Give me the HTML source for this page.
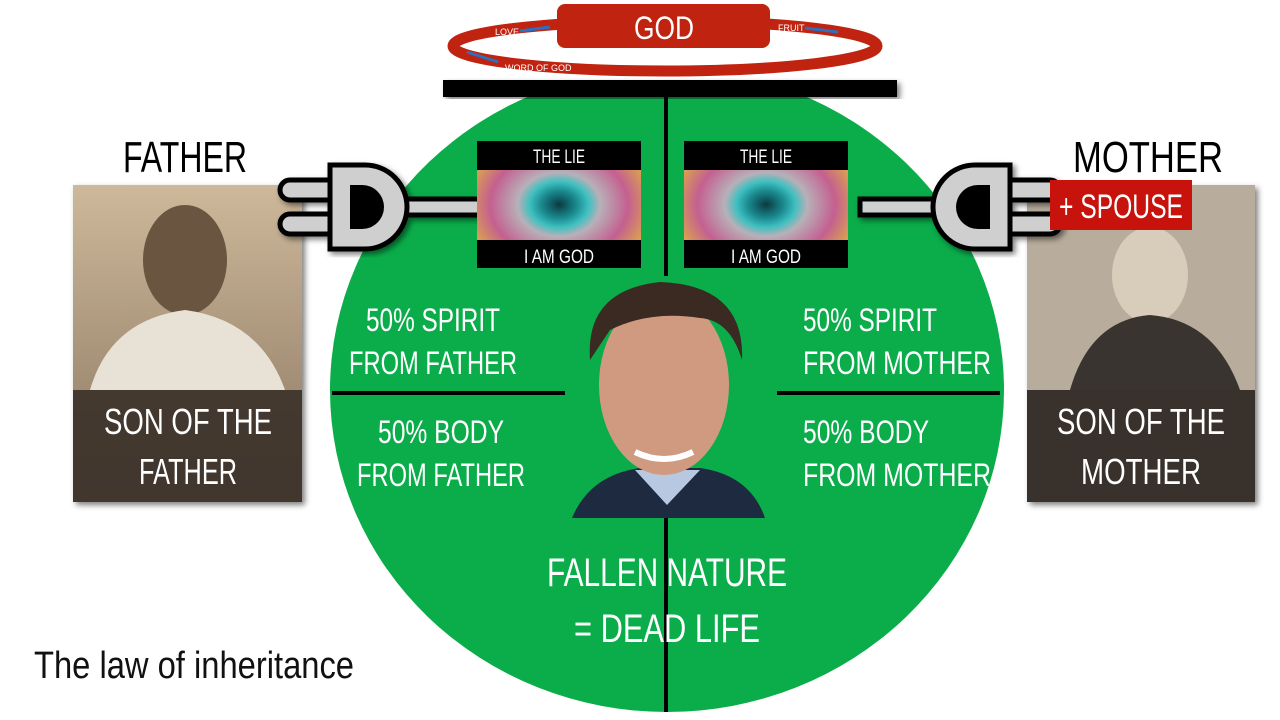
<!DOCTYPE html>
<html><head><meta charset="utf-8"><style>
html,body{margin:0;padding:0;background:#fff;}
svg{display:block;font-family:"Liberation Sans",sans-serif;}
</style></head><body>
<svg width="1280" height="720" viewBox="0 0 1280 720" xmlns="http://www.w3.org/2000/svg">
<defs>
<radialGradient id="eye" cx="50%" cy="50%" r="60%">
<stop offset="0" stop-color="#0a3a40"/><stop offset="0.18" stop-color="#1a8a90"/><stop offset="0.3" stop-color="#3fc0c0"/><stop offset="0.42" stop-color="#b8b0b8"/><stop offset="0.7" stop-color="#c46090"/><stop offset="1" stop-color="#e0b040"/>
</radialGradient>
<linearGradient id="sepia" x1="0" y1="0" x2="0" y2="1"><stop offset="0" stop-color="#cdb89a"/><stop offset="1" stop-color="#8a7660"/></linearGradient>
<filter id="sh"><feDropShadow dx="3" dy="3" stdDeviation="3" flood-opacity="0.5"/></filter>
</defs>
<ellipse cx="667" cy="390" rx="337" ry="322" fill="#0aad4a"/>
<rect x="0" y="0" width="1280" height="88" fill="#fff"/>
<ellipse cx="665" cy="46" rx="212" ry="25" fill="none" stroke="#c0230f" stroke-width="11"/>
<rect x="557" y="4" width="213" height="44" rx="8" fill="#c0230f"/>
<text x="664" y="39" font-size="32" fill="#fff" text-anchor="middle" textLength="60" lengthAdjust="spacingAndGlyphs">GOD</text>
<text x="495" y="35" font-size="9" fill="#fff">LOVE</text>
<path d="M520 31 L550 27" stroke="#2a6fc0" stroke-width="3"/>
<text x="778" y="31" font-size="9" fill="#fff">FRUIT</text>
<path d="M805 28 L838 32" stroke="#2a6fc0" stroke-width="3"/>
<path d="M467 52 L498 62" stroke="#2a6fc0" stroke-width="3"/>
<text x="505" y="71" font-size="9" fill="#fff">WORD OF GOD</text>
<rect x="443" y="80" width="454" height="17" fill="#000" filter="url(#sh)"/>
<line x1="666" y1="88" x2="666" y2="276" stroke="#000" stroke-width="4"/>
<line x1="666" y1="515" x2="666" y2="712" stroke="#000" stroke-width="4"/>
<line x1="332" y1="393" x2="565" y2="393" stroke="#000" stroke-width="4"/>
<line x1="777" y1="393" x2="1000" y2="393" stroke="#000" stroke-width="4"/>
<rect x="73" y="185" width="229" height="317" fill="url(#sepia)" filter="url(#sh)"/>
<ellipse cx="185" cy="260" rx="42" ry="55" fill="#6a5640"/>
<path d="M90 390 Q110 320 185 310 Q260 320 285 390 Z" fill="#e8e2d6"/>
<rect x="73" y="390" width="229" height="112" fill="#3a3028" opacity="0.9"/>
<text x="188" y="434" font-size="36" fill="#fff" text-anchor="middle" textLength="168" lengthAdjust="spacingAndGlyphs">SON OF THE</text>
<text x="188" y="484" font-size="36" fill="#fff" text-anchor="middle" textLength="98" lengthAdjust="spacingAndGlyphs">FATHER</text>
<rect x="1027" y="185" width="228" height="317" fill="#b8ad9c" filter="url(#sh)"/>
<ellipse cx="1150" cy="275" rx="38" ry="48" fill="#d8ccba"/>
<path d="M1070 390 Q1090 320 1150 315 Q1215 320 1240 390 Z" fill="#3a3430"/>
<rect x="1027" y="390" width="228" height="112" fill="#2e2622" opacity="0.92"/>
<text x="1141" y="434" font-size="36" fill="#fff" text-anchor="middle" textLength="168" lengthAdjust="spacingAndGlyphs">SON OF THE</text>
<text x="1141" y="484" font-size="36" fill="#fff" text-anchor="middle" textLength="120" lengthAdjust="spacingAndGlyphs">MOTHER</text>
<text x="185" y="172" font-size="44" fill="#000" text-anchor="middle" textLength="124" lengthAdjust="spacingAndGlyphs">FATHER</text>
<text x="1148" y="172" font-size="44" fill="#000" text-anchor="middle" textLength="150" lengthAdjust="spacingAndGlyphs">MOTHER</text>
<g fill="#cfcfcf" stroke="#000" stroke-width="5" filter="url(#sh)">
<rect x="400" y="199" width="80" height="16"/>
<rect x="280" y="180" width="70" height="20" rx="10"/>
<rect x="280" y="214" width="70" height="20" rx="10"/>
<path d="M330 165 L365 165 A42 42 0 0 1 365 249 L330 249 Z"/>
<rect x="860" y="199" width="80" height="16"/>
<rect x="990" y="180" width="70" height="20" rx="10"/>
<rect x="990" y="214" width="70" height="20" rx="10"/>
<path d="M1010 165 L975 165 A42 42 0 0 0 975 249 L1010 249 Z"/>
</g>
<path d="M350 185 L362 185 A22 22 0 0 1 362 229 L350 229 Z" fill="#000"/>
<path d="M990 185 L978 185 A22 22 0 0 0 978 229 L990 229 Z" fill="#000"/>
<rect x="1050" y="180" width="142" height="50" fill="#c8120c"/>
<text x="1121" y="218" font-size="34" fill="#fff" text-anchor="middle" textLength="124" lengthAdjust="spacingAndGlyphs">+ SPOUSE</text>
<g>
<rect x="477" y="141" width="164" height="127" fill="url(#eye)"/>
<rect x="477" y="141" width="164" height="29" fill="#000"/>
<rect x="477" y="240" width="164" height="28" fill="#000"/>
<text x="559" y="163" font-size="19" fill="#fff" text-anchor="middle" textLength="52" lengthAdjust="spacingAndGlyphs">THE LIE</text>
<text x="559" y="263" font-size="19" fill="#fff" text-anchor="middle" textLength="70" lengthAdjust="spacingAndGlyphs">I AM GOD</text>
<rect x="684" y="141" width="164" height="127" fill="url(#eye)"/>
<rect x="684" y="141" width="164" height="29" fill="#000"/>
<rect x="684" y="240" width="164" height="28" fill="#000"/>
<text x="766" y="163" font-size="19" fill="#fff" text-anchor="middle" textLength="52" lengthAdjust="spacingAndGlyphs">THE LIE</text>
<text x="766" y="263" font-size="19" fill="#fff" text-anchor="middle" textLength="70" lengthAdjust="spacingAndGlyphs">I AM GOD</text>
</g>
<path d="M572 518 Q590 475 640 468 L700 468 Q750 475 765 518 Z" fill="#1e2a40"/>
<path d="M635 470 L667 505 L700 470 Z" fill="#b8c8e0"/>
<ellipse cx="664" cy="385" rx="65" ry="90" fill="#d09a80"/>
<path d="M590 360 Q585 290 660 282 Q745 285 742 360 Q730 320 700 318 Q650 310 610 330 Z" fill="#3a2a22"/>
<path d="M635 452 Q664 466 693 452" stroke="#fff" stroke-width="6" fill="none"/>
<g fill="#fff" font-size="32" text-anchor="middle">
<text x="433" y="331" textLength="134" lengthAdjust="spacingAndGlyphs">50% SPIRIT</text>
<text x="433" y="374" textLength="168" lengthAdjust="spacingAndGlyphs">FROM FATHER</text>
<text x="441" y="443" textLength="126" lengthAdjust="spacingAndGlyphs">50% BODY</text>
<text x="441" y="486" textLength="168" lengthAdjust="spacingAndGlyphs">FROM FATHER</text>
<text x="870" y="331" textLength="134" lengthAdjust="spacingAndGlyphs">50% SPIRIT</text>
<text x="897" y="374" textLength="188" lengthAdjust="spacingAndGlyphs">FROM MOTHER</text>
<text x="866" y="443" textLength="126" lengthAdjust="spacingAndGlyphs">50% BODY</text>
<text x="897" y="486" textLength="188" lengthAdjust="spacingAndGlyphs">FROM MOTHER</text>
<text x="667" y="586" font-size="40" textLength="240" lengthAdjust="spacingAndGlyphs">FALLEN NATURE</text>
<text x="667" y="642" font-size="40" textLength="186" lengthAdjust="spacingAndGlyphs">= DEAD LIFE</text>
</g>
<text x="34" y="678" font-size="38" fill="#111" textLength="320" lengthAdjust="spacingAndGlyphs">The law of inheritance</text>
</svg>
</body></html>
